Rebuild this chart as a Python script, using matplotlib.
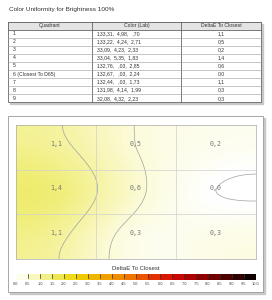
import numpy as np
import matplotlib
matplotlib.use("Agg")
import matplotlib.pyplot as plt
from matplotlib.colors import LinearSegmentedColormap, ListedColormap, BoundaryNorm
from matplotlib.patches import Rectangle

# table data
headers = ["Quadrant", "Color (Lab)", "DeltaE To Closest"]
quadrants = ["1", "2", "3", "4", "5", "6 (Closest To D65)", "7", "8", "9"]
lab_colors = ["133,31,  4,98,   ,70", "133,22,  4,24,  2,71", "33,09,  4,23,  2,33",
              "33,04,  5,35,  1,83", "132,76,   ,03,  2,85", "132,67,   ,03,  2,24",
              "132,44,   ,03,  1,73", "131,98,  4,14,  1,99", "32,08,  4,32,  2,23"]
delta_e = [1.1, 0.5, 0.2, 1.4, 0.6, 0.0, 1.1, 0.3, 0.3]

# colorbar
cbar_ticks = np.arange(0, 10.01, 0.5)
contour_levels = [0.0, 0.5, 1.0]

W, H = 272, 300
fig = plt.figure(figsize=(W / 100, H / 100), dpi=100)
fig.patch.set_facecolor("white")

# overlay axes in pixel coordinates
ov = fig.add_axes([0, 0, 1, 1])
ov.set_xlim(0, W)
ov.set_ylim(H, 0)
ov.axis("off")

font = "Liberation Sans"
ov.text(9, 10, "Color Uniformity for Brightness 100%", fontsize=4.6, family=font,
        color="#333333", va="center", ha="left")

# ---- table ----
tx0, tx1 = 8, 261
cols = [8, 92, 181, 261]
hy0, hy1 = 22, 29.5
rh = 8.1
ty1 = hy1 + rh * len(quadrants)
ov.add_patch(Rectangle((tx0 + 1.5, hy0 + 1.5), tx1 - tx0, ty1 - hy0, color="#c8c8c8", zorder=1))
ov.add_patch(Rectangle((tx0, hy0), tx1 - tx0, ty1 - hy0, facecolor="white", edgecolor="#666666", lw=0.6, zorder=2))
ov.add_patch(Rectangle((tx0, hy0), tx1 - tx0, hy1 - hy0, facecolor="#e4e4e4", edgecolor="#666666", lw=0.6, zorder=2))
for c in cols[1:-1]:
    ov.plot([c, c], [hy0, ty1], color="#666666", lw=0.6, zorder=3)
for i in range(1, len(quadrants)):
    y = hy1 + rh * i
    ov.plot([tx0, tx1], [y, y], color="#999999", lw=0.4, zorder=3)
for j, h in enumerate(headers):
    ov.text((cols[j] + cols[j + 1]) / 2, (hy0 + hy1) / 2, h, fontsize=3.7, family=font,
            color="#333333", ha="center", va="center", zorder=4)
for i in range(len(quadrants)):
    yc = hy1 + rh * (i + 0.5)
    ov.text(13, yc, quadrants[i], fontsize=3.7, family=font, color="#333333", ha="left", va="center", zorder=4)
    ov.text(97, yc, lab_colors[i], fontsize=3.7, family=font, color="#333333", ha="left", va="center", zorder=4)
    ov.text((cols[2] + cols[3]) / 2, yc, f"{delta_e[i]:.1f}".replace(".", ","), fontsize=3.7,
            family=font, color="#333333", ha="center", va="center", zorder=4)

# ---- panel ----
ov.add_patch(Rectangle((9.5, 117.5), 255, 176, color="#c8c8c8", zorder=1))
ov.add_patch(Rectangle((8, 116), 255, 176, facecolor="white", edgecolor="#999999", lw=0.6, zorder=2))

# colormap
anchors = [(0.0, "#ffffff"), (0.05, "#fcfbd8"), (0.15, "#efec6c"), (0.25, "#f0d400"),
           (0.4, "#f09800"), (0.5, "#f06800"), (0.6, "#e02000"), (0.7, "#c00000"),
           (0.85, "#600000"), (1.0, "#000000")]
cmap = LinearSegmentedColormap.from_list("de", anchors)

# surface through the cell centres (curvature + a bit of tension), zero slope at edges
vals = np.array(delta_e).reshape(3, 3)
n = 61
step = 3 / (n - 1)
tension = 0.3


def d2(m):
    D = np.zeros((m, m))
    for i in range(1, m - 1):
        D[i, i - 1:i + 2] = [1, -2, 1]
    D[0, :2] = [-2, 2]
    D[-1, -2:] = [2, -2]
    return D


def d1(m):
    D = np.zeros((m - 1, m))
    for i in range(m - 1):
        D[i, i:i + 2] = [-1, 1]
    return D


I = np.eye(n)
Dxx = np.kron(I, d2(n))
Dyy = np.kron(d2(n), I)
Dxy = np.kron(d1(n), d1(n))
Dx = np.kron(I, d1(n))
Dy = np.kron(d1(n), I)
Qc = Dxx.T @ Dxx + 2 * Dxy.T @ Dxy + Dyy.T @ Dyy
Qg = Dx.T @ Dx + Dy.T @ Dy
Q = (1 - tension) * Qc / step ** 4 + tension * Qg / step ** 2
Q /= np.abs(Q).max()
C = np.zeros((9, n * n))
for r in range(3):
    for c in range(3):
        iy, ix = int(round((r + 0.5) / step)), int(round((c + 0.5) / step))
        C[r * 3 + c, iy * n + ix] = 1
K = np.block([[Q, C.T], [C, np.zeros((9, 9))]])
sol = np.linalg.solve(K, np.concatenate([np.zeros(n * n), vals.ravel()]))
G = sol[:n * n].reshape(n, n)
gx, gy = np.meshgrid(np.linspace(0, 3, n), np.linspace(0, 3, n))

hm = fig.add_axes([16 / W, 1 - 259 / H, 240 / W, 134 / H])
hm.imshow(np.clip(G, 0, 10), cmap=cmap, vmin=0, vmax=10, extent=[0, 3, 3, 0],
          interpolation="bicubic", aspect="auto")
hm.contour(gx, gy, G, levels=contour_levels, colors="#a0a0a0", linewidths=0.5)
for k in (1, 2):
    hm.axhline(k, color="#d0d0d0", lw=0.5)
    hm.axvline(k, color="#d0d0d0", lw=0.5)
for r in range(3):
    for c in range(3):
        hm.text(c + 0.5, r + 0.42, f"{vals[r, c]:.1f}".replace(".", ","), fontsize=4.8,
                family="DejaVu Sans Mono", color="#777777", ha="center", va="center")
hm.set_xlim(0, 3)
hm.set_ylim(3, 0)
hm.set_xticks([])
hm.set_yticks([])
for s in hm.spines.values():
    s.set_color("#aaaaaa")
    s.set_linewidth(0.5)

# watermark and red bar
ov.text(212, 253, "notebookcheck", fontsize=4.5, family=font, color="white", alpha=0.8,
        ha="center", va="center", fontweight="bold", zorder=5)
ov.add_patch(Rectangle((228, 251.5), 23, 3.2, color="#e8102a", zorder=5))

# ---- colorbar ----
ov.text(136, 269, "DeltaE To Closest", fontsize=4.3, family=font, color="#333333",
        ha="center", va="center")
cb = fig.add_axes([16 / W, 1 - 280 / H, 240 / W, 6 / H])
mids = (cbar_ticks[:-1] + cbar_ticks[1:]) / 2
bcmap = ListedColormap([cmap(m / 10) for m in mids])
norm = BoundaryNorm(cbar_ticks, bcmap.N)
cb.imshow([mids], cmap=bcmap, norm=norm, extent=[0, 10, 0, 1], aspect="auto")
for t in cbar_ticks[1:-1]:
    cb.plot([t, t], [0.35, 1], color="#333333", lw=0.5)
cb.set_xlim(0, 10)
cb.set_ylim(0, 1)
cb.set_yticks([])
cb.set_xticks(cbar_ticks)
cb.set_xticklabels([f"{t:.1f}" for t in cbar_ticks], fontsize=2.9, family=font, color="#444444")
cb.tick_params(axis="x", length=0, pad=1.5)
for s in cb.spines.values():
    s.set_visible(False)

fig.savefig("out.png", dpi=100)
